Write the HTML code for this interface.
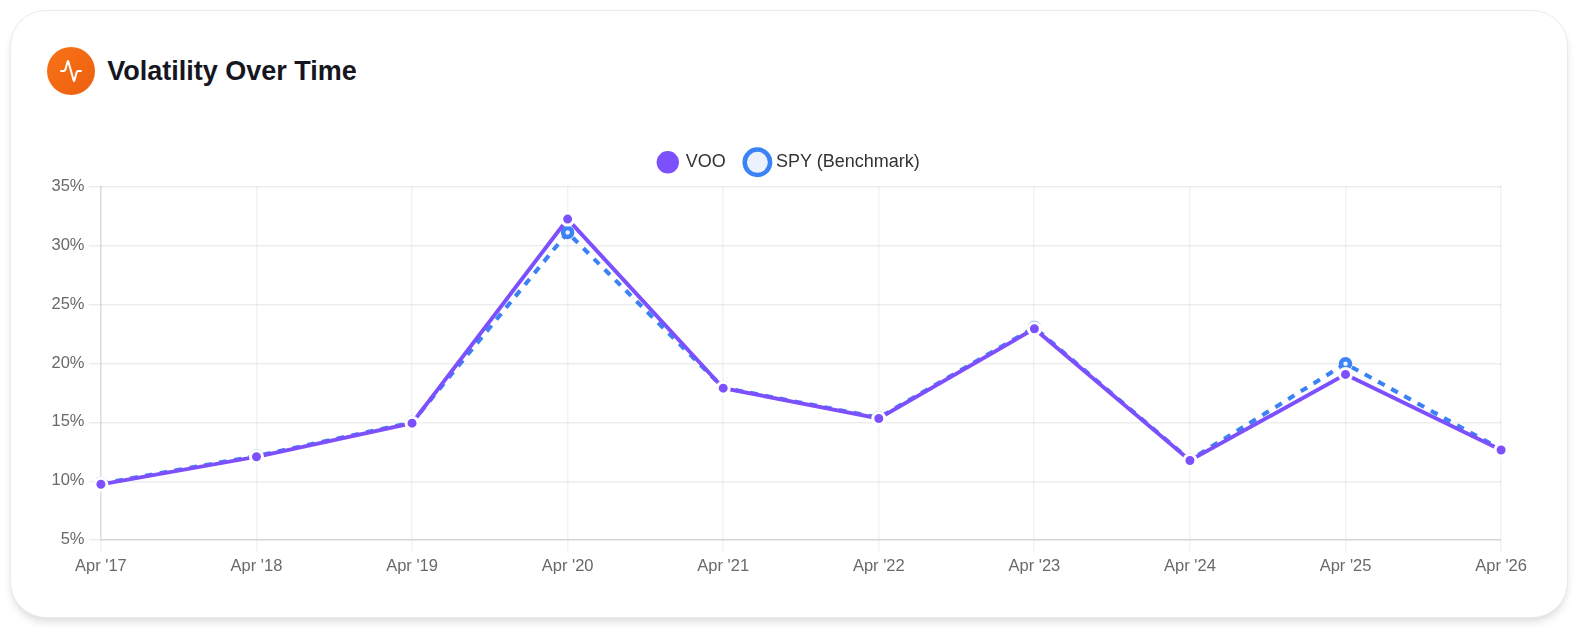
<!DOCTYPE html>
<html><head><meta charset="utf-8"><title>Volatility Over Time</title>
<style>
html,body{margin:0;padding:0;background:#fff;}
body{width:1582px;height:628px;overflow:hidden;position:relative;font-family:"Liberation Sans",sans-serif;}
.card{position:absolute;left:10px;top:10px;width:1556px;height:606px;background:#fff;border:1px solid #ebebed;border-radius:36px;
box-shadow:0 6px 9px -1px rgba(0,0,0,0.09),0 3px 6px -2px rgba(0,0,0,0.07);}
.ico{position:absolute;left:47px;top:47px;width:48px;height:48px;border-radius:50%;background:linear-gradient(135deg,#f97316,#ec5f10);}
.ico svg{position:absolute;left:12px;top:12px;}
.title{position:absolute;left:107.3px;top:56px;font-size:27px;line-height:31px;font-weight:bold;color:#15161f;white-space:nowrap;}
svg.chart{position:absolute;left:0;top:0;will-change:transform;}
svg.chart text{font-family:"Liberation Sans",sans-serif;}
</style></head><body>
<div class="card"></div>
<div class="ico"><svg width="24" height="24" viewBox="0 0 24 24" fill="none" stroke="#fff" stroke-width="2" stroke-linecap="round" stroke-linejoin="round"><path d="M22 12h-2.48a2 2 0 0 0-1.93 1.46l-2.35 8.36a.25.25 0 0 1-.48 0L9.24 2.18a.25.25 0 0 0-.48 0l-2.35 8.36A2 2 0 0 1 4.49 12H2"/></svg></div>
<div class="title">Volatility Over Time</div>
<svg class="chart" width="1582" height="628" viewBox="0 0 1582 628">
<rect x="88.75" y="186" width="1412.75" height="1.5" fill="rgba(0,0,0,0.07)"/>
<rect x="88.75" y="245" width="1412.75" height="1.5" fill="rgba(0,0,0,0.07)"/>
<rect x="88.75" y="304" width="1412.75" height="1.5" fill="rgba(0,0,0,0.07)"/>
<rect x="88.75" y="363" width="1412.75" height="1.5" fill="rgba(0,0,0,0.07)"/>
<rect x="88.75" y="422" width="1412.75" height="1.5" fill="rgba(0,0,0,0.07)"/>
<rect x="88.75" y="481" width="1412.75" height="1.5" fill="rgba(0,0,0,0.07)"/>
<rect x="88.75" y="539" width="11.25" height="1.5" fill="rgba(0,0,0,0.07)"/>
<rect x="100" y="539" width="1401.5" height="1.5" fill="rgba(0,0,0,0.165)"/>
<rect x="100" y="186" width="1.65" height="353" fill="rgba(0,0,0,0.125)"/>
<rect x="100" y="540.5" width="1.5" height="11.25" fill="rgba(0,0,0,0.05)"/>
<rect x="256" y="186" width="1.5" height="353" fill="rgba(0,0,0,0.05)"/>
<rect x="256" y="540.5" width="1.5" height="11.25" fill="rgba(0,0,0,0.05)"/>
<rect x="411" y="186" width="1.5" height="353" fill="rgba(0,0,0,0.05)"/>
<rect x="411" y="540.5" width="1.5" height="11.25" fill="rgba(0,0,0,0.05)"/>
<rect x="567" y="186" width="1.5" height="353" fill="rgba(0,0,0,0.05)"/>
<rect x="567" y="540.5" width="1.5" height="11.25" fill="rgba(0,0,0,0.05)"/>
<rect x="722" y="186" width="1.5" height="353" fill="rgba(0,0,0,0.05)"/>
<rect x="722" y="540.5" width="1.5" height="11.25" fill="rgba(0,0,0,0.05)"/>
<rect x="878" y="186" width="1.5" height="353" fill="rgba(0,0,0,0.05)"/>
<rect x="878" y="540.5" width="1.5" height="11.25" fill="rgba(0,0,0,0.05)"/>
<rect x="1033" y="186" width="1.5" height="353" fill="rgba(0,0,0,0.05)"/>
<rect x="1033" y="540.5" width="1.5" height="11.25" fill="rgba(0,0,0,0.05)"/>
<rect x="1189" y="186" width="1.5" height="353" fill="rgba(0,0,0,0.05)"/>
<rect x="1189" y="540.5" width="1.5" height="11.25" fill="rgba(0,0,0,0.05)"/>
<rect x="1345" y="186" width="1.5" height="353" fill="rgba(0,0,0,0.05)"/>
<rect x="1345" y="540.5" width="1.5" height="11.25" fill="rgba(0,0,0,0.05)"/>
<rect x="1500" y="186" width="1.5" height="353" fill="rgba(0,0,0,0.05)"/>
<rect x="1500" y="540.5" width="1.5" height="11.25" fill="rgba(0,0,0,0.05)"/>
<path d="M100.90 483.60 C100.90 483.60 256.48 456.00 256.48 456.00 C256.48 456.00 412.06 422.40 412.06 422.40 C412.06 422.40 567.63 232.60 567.63 232.60 C567.63 232.60 723.21 387.60 723.21 387.60 C723.21 387.60 878.79 417.70 878.79 417.70 C878.79 417.70 1034.37 327.60 1034.37 327.60 C1034.37 327.60 1189.94 460.00 1189.94 460.00 C1189.94 460.00 1345.52 363.70 1345.52 363.70 C1345.52 363.70 1501.10 449.40 1501.10 449.40" fill="none" stroke="#3b82f6" stroke-width="4.1" stroke-dasharray="7.5 7.5" stroke-linejoin="miter"/>
<circle cx="100.90" cy="483.60" r="4.5" fill="#ebf2fe" stroke="#3b82f6" stroke-width="4.5"/>
<circle cx="256.48" cy="456.00" r="4.5" fill="#ebf2fe" stroke="#3b82f6" stroke-width="4.5"/>
<circle cx="412.06" cy="422.40" r="4.5" fill="#ebf2fe" stroke="#3b82f6" stroke-width="4.5"/>
<circle cx="567.63" cy="232.60" r="4.5" fill="#ebf2fe" stroke="#3b82f6" stroke-width="4.5"/>
<circle cx="723.21" cy="387.60" r="4.5" fill="#ebf2fe" stroke="#3b82f6" stroke-width="4.5"/>
<circle cx="878.79" cy="417.70" r="4.5" fill="#ebf2fe" stroke="#3b82f6" stroke-width="4.5"/>
<circle cx="1034.37" cy="327.60" r="4.5" fill="#ebf2fe" stroke="#3b82f6" stroke-width="4.5"/>
<circle cx="1189.94" cy="460.00" r="4.5" fill="#ebf2fe" stroke="#3b82f6" stroke-width="4.5"/>
<circle cx="1345.52" cy="363.70" r="4.5" fill="#ebf2fe" stroke="#3b82f6" stroke-width="4.5"/>
<circle cx="1501.10" cy="449.40" r="4.5" fill="#ebf2fe" stroke="#3b82f6" stroke-width="4.5"/>
<path d="M100.90 484.30 C100.90 484.30 256.48 456.80 256.48 456.80 C256.48 456.80 412.06 423.15 412.06 423.15 C412.06 423.15 567.63 219.10 567.63 219.10 C567.63 219.10 723.21 388.15 723.21 388.15 C723.21 388.15 878.79 418.46 878.79 418.46 C878.79 418.46 1034.37 328.70 1034.37 328.70 C1034.37 328.70 1189.94 460.46 1189.94 460.46 C1189.94 460.46 1345.52 374.40 1345.52 374.40 C1345.52 374.40 1501.10 450.00 1501.10 450.00" fill="none" stroke="#7d50fd" stroke-width="3.9" stroke-linejoin="miter"/>
<circle cx="100.90" cy="484.30" r="6" fill="#7d50fd" stroke="#fff" stroke-width="3"/>
<circle cx="256.48" cy="456.80" r="6" fill="#7d50fd" stroke="#fff" stroke-width="3"/>
<circle cx="412.06" cy="423.15" r="6" fill="#7d50fd" stroke="#fff" stroke-width="3"/>
<circle cx="567.63" cy="219.10" r="6" fill="#7d50fd" stroke="#fff" stroke-width="3"/>
<circle cx="723.21" cy="388.15" r="6" fill="#7d50fd" stroke="#fff" stroke-width="3"/>
<circle cx="878.79" cy="418.46" r="6" fill="#7d50fd" stroke="#fff" stroke-width="3"/>
<circle cx="1034.37" cy="328.70" r="6" fill="#7d50fd" stroke="#fff" stroke-width="3"/>
<circle cx="1189.94" cy="460.46" r="6" fill="#7d50fd" stroke="#fff" stroke-width="3"/>
<circle cx="1345.52" cy="374.40" r="6" fill="#7d50fd" stroke="#fff" stroke-width="3"/>
<circle cx="1501.10" cy="450.00" r="6" fill="#7d50fd" stroke="#fff" stroke-width="3"/>
<circle cx="667.8" cy="162.3" r="12.7" fill="#7d50fd" stroke="#fff" stroke-width="3"/>
<circle cx="757.4" cy="162.3" r="12.7" fill="#ebf2fe" stroke="#3b82f6" stroke-width="4.5"/>
<text x="685.8" y="166.7" font-size="18" fill="#333">VOO</text>
<text x="776" y="166.7" font-size="18" fill="#333">SPY (Benchmark)</text>
<text x="84.5" y="191.10" font-size="16.5" fill="#696969" text-anchor="end">35%</text>
<text x="84.5" y="249.94" font-size="16.5" fill="#696969" text-anchor="end">30%</text>
<text x="84.5" y="308.78" font-size="16.5" fill="#696969" text-anchor="end">25%</text>
<text x="84.5" y="367.62" font-size="16.5" fill="#696969" text-anchor="end">20%</text>
<text x="84.5" y="426.47" font-size="16.5" fill="#696969" text-anchor="end">15%</text>
<text x="84.5" y="485.31" font-size="16.5" fill="#696969" text-anchor="end">10%</text>
<text x="84.5" y="544.15" font-size="16.5" fill="#696969" text-anchor="end">5%</text>
<text x="100.90" y="571" font-size="16.5" fill="#696969" text-anchor="middle">Apr '17</text>
<text x="256.48" y="571" font-size="16.5" fill="#696969" text-anchor="middle">Apr '18</text>
<text x="412.06" y="571" font-size="16.5" fill="#696969" text-anchor="middle">Apr '19</text>
<text x="567.63" y="571" font-size="16.5" fill="#696969" text-anchor="middle">Apr '20</text>
<text x="723.21" y="571" font-size="16.5" fill="#696969" text-anchor="middle">Apr '21</text>
<text x="878.79" y="571" font-size="16.5" fill="#696969" text-anchor="middle">Apr '22</text>
<text x="1034.37" y="571" font-size="16.5" fill="#696969" text-anchor="middle">Apr '23</text>
<text x="1189.94" y="571" font-size="16.5" fill="#696969" text-anchor="middle">Apr '24</text>
<text x="1345.52" y="571" font-size="16.5" fill="#696969" text-anchor="middle">Apr '25</text>
<text x="1501.10" y="571" font-size="16.5" fill="#696969" text-anchor="middle">Apr '26</text>
</svg>
</body></html>
